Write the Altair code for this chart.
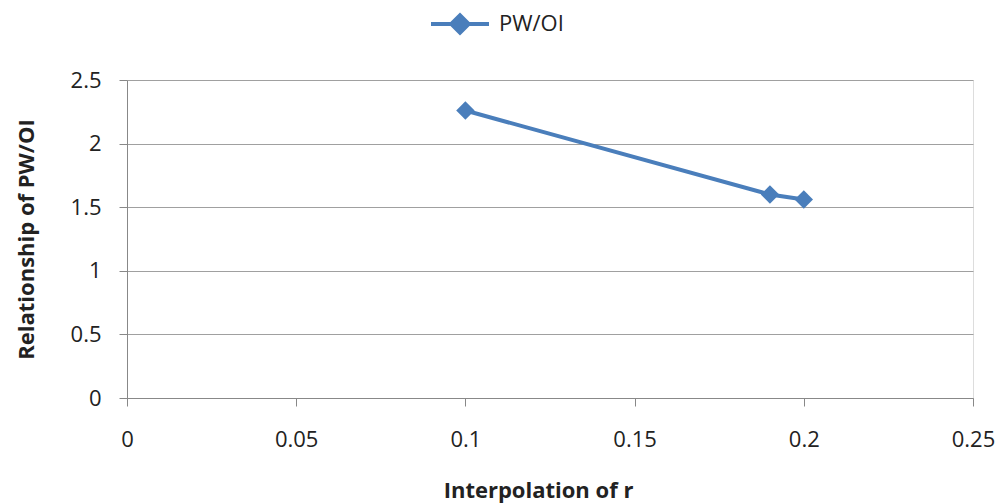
import altair as alt
import pandas as pd

series_name = "PW/OI"
r_values = [0.10, 0.19, 0.20]
pw_oi_values = [2.26, 1.60, 1.56]
x_ticks = [0, 0.05, 0.1, 0.15, 0.2, 0.25]
y_ticks = [0, 0.5, 1, 1.5, 2, 2.5]

df = pd.DataFrame({"r": r_values, "v": pw_oi_values, "series": [series_name] * len(r_values)})

FONT = "Open Sans"
BLUE = "#4A7EBB"

diamond_path = "M-1,0 L1,0 M-0.3,0 L0,-0.3 L0.3,0 L0,0.3 Z"

base = alt.Chart(df).encode(
    x=alt.X("r:Q", scale=alt.Scale(domain=[0, 0.25], nice=False),
            axis=alt.Axis(values=x_ticks, title="Interpolation of r", grid=False,
                          format="~g", labelFontSize=22, labelFont=FONT, labelColor="#222",
                          labelPadding=23, tickSize=8, tickColor="#888", domainColor="#888",
                          titleFont=FONT, titleFontSize=22, titleFontWeight="bold",
                          titleColor="#222", titlePadding=30, titleX=411, labelFlush=False)),
    y=alt.Y("v:Q", scale=alt.Scale(domain=[0, 2.5], nice=False),
            axis=alt.Axis(values=y_ticks, title="Relationship of PW/OI", grid=True,
                          gridColor="#a0a0a0", gridWidth=1, format="~g",
                          labelFontSize=22, labelFont=FONT, labelColor="#222",
                          labelPadding=18, tickSize=8, tickColor="#888", domainColor="#888",
                          titleFont=FONT, titleFontSize=22, titleFontWeight="bold",
                          titleColor="#222", titlePadding=32)),
    color=alt.Color("series:N", scale=alt.Scale(range=[BLUE]),
                    legend=alt.Legend(title=None, orient="none", legendX=302, legendY=-87,
                                      symbolType=diamond_path, symbolSize=3364,
                                      symbolStrokeWidth=4, symbolFillColor=BLUE,
                                      symbolStrokeColor=BLUE, labelFont=FONT,
                                      labelFontSize=22, labelColor="#222",
                                      labelOffset=8)),
)

line = base.mark_line(strokeWidth=4)
points = base.mark_point(shape="diamond", filled=True, size=340, opacity=1)

chart = (line + points).properties(
    width=846, height=318,
    autosize=alt.AutoSizeParams(type="none"),
    padding={"left": 127, "top": 80, "right": 29, "bottom": 106},
).configure_view(stroke=None).configure(background="white")

chart.save("out.html", embed_options={"renderer": "svg", "actions": False})
